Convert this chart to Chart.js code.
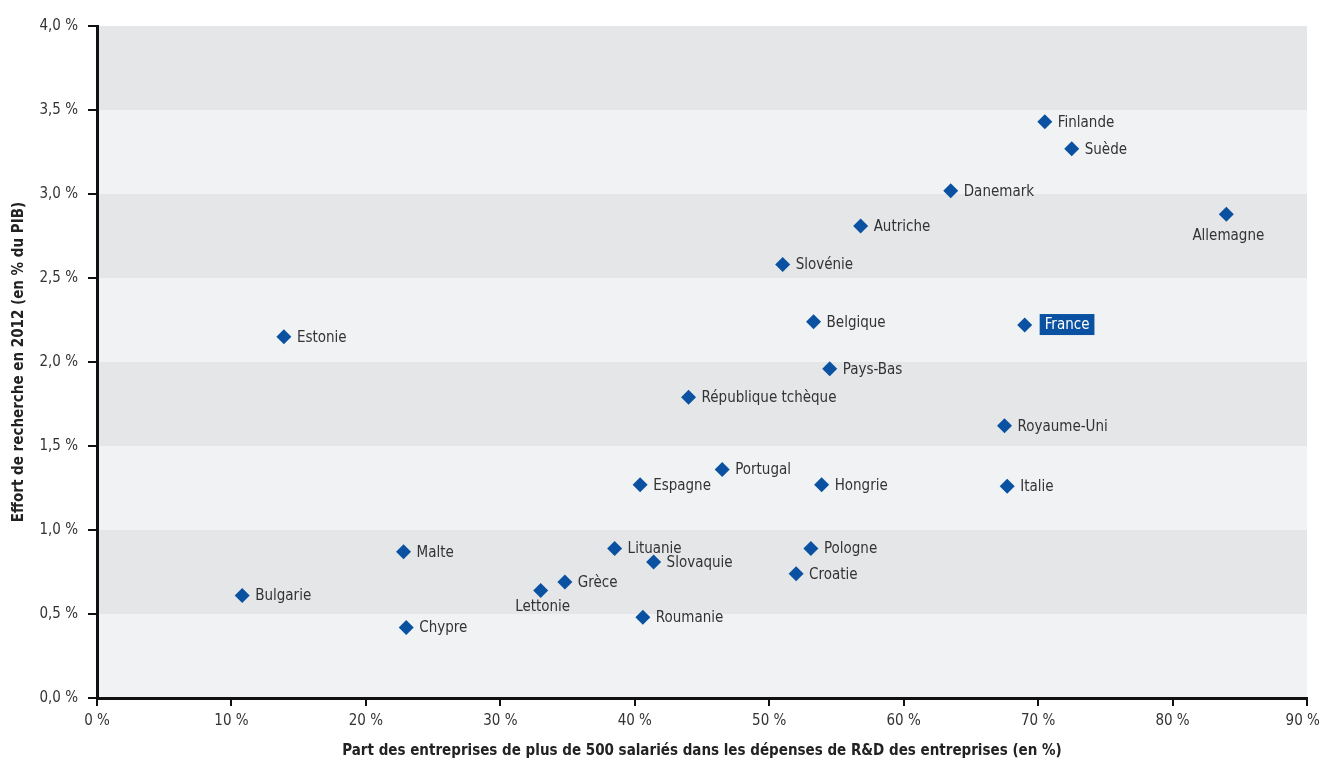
<!DOCTYPE html>
<html>
<head>
<meta charset="utf-8">
<script src="https://cdn.jsdelivr.net/npm/chart.js@4"></script>
<style>
  html, body { margin: 0; padding: 0; background: #fff; }
  #wrap { width: 1321px; height: 760px; }
</style>
</head>
<body>
<div id="wrap"><canvas id="graphique" width="1321" height="760"></canvas></div>
<script>
const pays = ['Finlande', 'Suède', 'Danemark', 'Allemagne', 'Autriche', 'Slovénie', 'Belgique', 'France',
  'Estonie', 'Pays-Bas', 'République tchèque', 'Royaume-Uni', 'Portugal', 'Espagne', 'Hongrie', 'Italie',
  'Lituanie', 'Pologne', 'Malte', 'Slovaquie', 'Croatie', 'Grèce', 'Lettonie', 'Bulgarie', 'Roumanie', 'Chypre'];
const partGrandes = [70.5, 72.5, 63.5, 84.0, 56.8, 51.0, 53.3, 69.0,
  13.9, 54.5, 44.0, 67.5, 46.5, 40.4, 53.9, 67.7,
  38.5, 53.1, 22.8, 41.4, 52.0, 34.8, 33.0, 10.8, 40.6, 23.0];
const effortRD = [3.43, 3.27, 3.02, 2.88, 2.81, 2.58, 2.24, 2.22,
  2.15, 1.96, 1.79, 1.62, 1.36, 1.27, 1.27, 1.26,
  0.89, 0.89, 0.87, 0.81, 0.74, 0.69, 0.64, 0.61, 0.48, 0.42];
const ticksY = [0, 0.5, 1, 1.5, 2, 2.5, 3, 3.5, 4];
const ticksX = [0, 10, 20, 30, 40, 50, 60, 70, 80, 90];

const police = '"Liberation Sans Narrow", "DejaVu Sans Condensed", "Roboto", sans-serif';
const bleu = '#0a52a1';

// position des étiquettes (par défaut : à droite du point)
const placement = { 'Allemagne': 'dessous', 'Lettonie': 'dessous', 'France': 'encadre' };

const points = partGrandes.map((x, i) => ({ x: x, y: effortRD[i] }));

const bandes = {
  id: 'bandes',
  beforeDraw(chart) {
    const { ctx, chartArea, scales } = chart;
    ctx.save();
    for (let i = 0; i < ticksY.length - 1; i++) {
      const y1 = scales.y.getPixelForValue(ticksY[i + 1]);
      const y0 = scales.y.getPixelForValue(ticksY[i]);
      ctx.fillStyle = (i % 2 === 0) ? '#f1f2f4' : '#e5e6e8';
      ctx.fillRect(chartArea.left, y1, chartArea.right - chartArea.left, y0 - y1);
    }
    ctx.restore();
  }
};

const etiquettes = {
  id: 'etiquettes',
  afterDatasetsDraw(chart) {
    const { ctx } = chart;
    const meta = chart.getDatasetMeta(0);
    ctx.save();
    ctx.font = '15px ' + police;
    meta.data.forEach((pt, i) => {
      const nom = pays[i];
      const mode = placement[nom];
      if (mode === 'dessous') {
        ctx.textAlign = 'center';
        ctx.textBaseline = 'middle';
        ctx.fillStyle = '#333';
        ctx.fillText(nom, pt.x + 2, pt.y + (nom === 'Allemagne' ? 22 : 17));
      } else if (mode === 'encadre') {
        ctx.textAlign = 'left';
        ctx.textBaseline = 'middle';
        const w = ctx.measureText(nom).width;
        ctx.fillStyle = bleu;
        ctx.fillRect(pt.x + 15, pt.y - 11, w + 10, 21);
        ctx.fillStyle = '#fff';
        ctx.fillText(nom, pt.x + 20, pt.y);
      } else {
        ctx.textAlign = 'left';
        ctx.textBaseline = 'middle';
        ctx.fillStyle = '#333';
        ctx.fillText(nom, pt.x + 13, pt.y + 1);
      }
    });
    ctx.restore();
  }
};

new Chart(document.getElementById('graphique'), {
  type: 'scatter',
  data: {
    datasets: [{
      data: points,
      pointStyle: 'rectRot',
      pointRadius: 7.5,
      pointHoverRadius: 7.5,
      backgroundColor: bleu,
      borderColor: bleu,
      borderWidth: 0
    }]
  },
  options: {
    responsive: false,
    animation: false,
    events: [],
    layout: { padding: { top: 26, right: 14, left: 0, bottom: 0 } },
    plugins: { legend: { display: false }, tooltip: { enabled: false } },
    scales: {
      x: {
        type: 'linear', min: 0, max: 90,
        afterBuildTicks: s => { s.ticks = ticksX.map(v => ({ value: v })); },
        afterFit: s => { s.height = 62; s.paddingLeft = 0; s.paddingRight = 0; },
        grid: { drawOnChartArea: false, color: '#111', lineWidth: 2, tickLength: 8 },
        border: { color: '#111', width: 3 },
        ticks: {
          color: '#333', padding: 6,
          font: { family: police, size: 15 },
          // le dernier libellé est décalé vers la gauche pour rester dans le cadre
          callback: v => v === 90 ? v + ' %\u00a0\u00a0' : v + ' %'
        },
        title: {
          display: true,
          text: 'Part des entreprises de plus de 500 salariés dans les dépenses de R&D des entreprises (en %)',
          color: '#222', padding: { top: 2, bottom: 0 },
          font: { family: police, size: 15, weight: 'bold' }
        }
      },
      y: {
        type: 'linear', min: 0, max: 4,
        afterBuildTicks: s => { s.ticks = ticksY.map(v => ({ value: v })); },
        afterFit: s => { s.width = 97; s.paddingTop = 0; s.paddingBottom = 0; },
        grid: { drawOnChartArea: false, color: '#111', lineWidth: 2, tickLength: 9 },
        border: { color: '#111', width: 3 },
        ticks: {
          color: '#333', padding: 10,
          font: { family: police, size: 15 },
          callback: v => v.toFixed(1).replace('.', ',') + ' %'
        },
        title: {
          display: true,
          text: 'Effort de recherche en 2012 (en % du PIB)',
          color: '#222', padding: { top: 10, bottom: 4 },
          font: { family: police, size: 15, weight: 'bold' }
        }
      }
    }
  },
  plugins: [bandes, etiquettes]
});
</script>
</body>
</html>
